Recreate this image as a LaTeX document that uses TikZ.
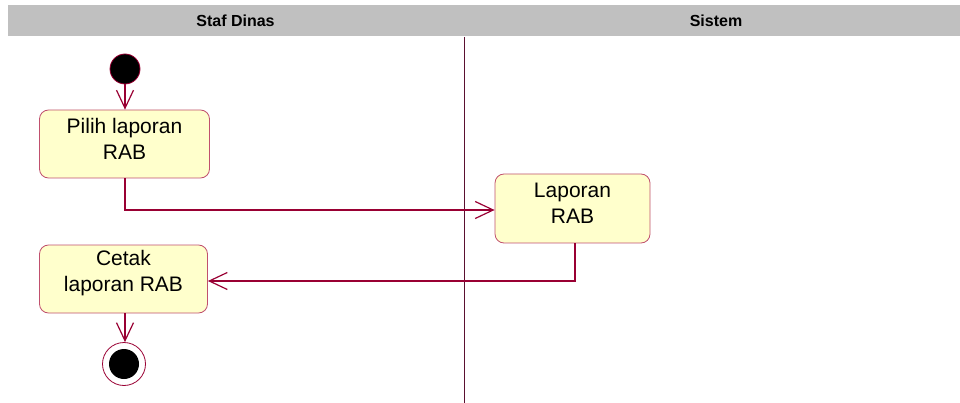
\documentclass[tikz,border=0pt]{standalone}
\usepackage{fontspec}
\setmainfont{Liberation Sans}
\usetikzlibrary{arrows.meta}
\definecolor{umlline}{HTML}{990033}
\definecolor{umlborder}{HTML}{C0506E}
\definecolor{umlfill}{HTML}{FFFFCC}
\definecolor{lanegray}{HTML}{C0C0C0}
\definecolor{lanediv}{HTML}{5A1030}
\tikzset{
  x=1pt, y=-1pt,
  activity/.style={draw=umlborder, fill=umlfill, rounded corners=9pt, line width=0.8pt, inner sep=0pt},
  acttext/.style={align=center, font=\fontsize{21}{26}\selectfont, inner sep=0pt, yshift=5.5pt},
  flow/.style={draw=umlline, line width=1.2pt, -{Straight Barb[length=18pt,width=17pt,line width=1.2pt]}},
  lanehead/.style={font=\bfseries\fontsize{16}{18}\selectfont},
}
\begin{document}
\begin{tikzpicture}
\useasboundingbox (0,0) rectangle (960,403);
\fill[lanegray] (8,5) rectangle (960,36);
\node[lanehead] (h1) at (235.5,20.5) {Staf Dinas};
\node[lanehead] (h2) at (716,20.5) {Sistem};
\draw[lanediv, line width=1pt] (464,37) -- (464,403);

\node[circle, fill=black, draw=umlline, line width=0.8pt, minimum size=30pt, inner sep=0pt] (start) at (125,69) {};
\node[activity, minimum width=170pt, minimum height=68pt,
  label={[acttext]center:{Pilih laporan\\RAB}}] (b1) at (124.5,144) {};
\node[activity, minimum width=155pt, minimum height=69pt,
  label={[acttext]center:{Laporan\\RAB}}] (b2) at (572.5,208.5) {};
\node[activity, minimum width=168pt, minimum height=68pt,
  label={[acttext]center:{Cetak\\laporan RAB}}] (b3) at (123.5,279) {};
\node[circle, draw=umlline, line width=0.8pt, minimum size=43pt, inner sep=0pt] (end) at (124,364) {};
\node[circle, fill=black, minimum size=30pt, inner sep=0pt] (endin) at (end.center) {};

\draw[flow] (start) -- (b1.north -| start);
\coordinate (c1) at (125,210);
\draw[flow] (b1.south -| c1) -- (c1) -- (b2.west |- c1);
\coordinate (c2) at (575,281);
\draw[flow] (b2.south -| c2) -- (c2) -- (b3.east |- c2);
\draw[flow] (b3.south -| start) -- (end.north -| start);
\end{tikzpicture}
\end{document}
